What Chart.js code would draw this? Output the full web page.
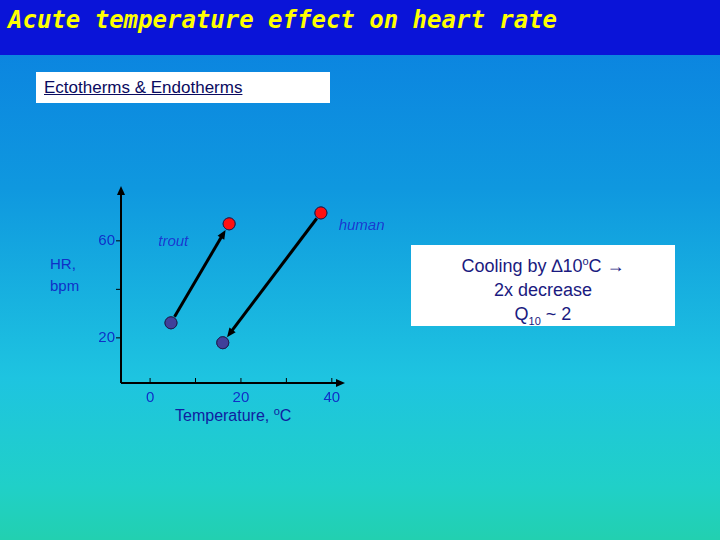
<!DOCTYPE html>
<html><head><meta charset="utf-8">
<script src="https://cdn.jsdelivr.net/npm/chart.js@4"></script>
<style>
html,body{margin:0;padding:0;width:720px;height:540px;overflow:hidden}
#bg{position:absolute;left:0;top:0;width:720px;height:540px;background:linear-gradient(180deg,#0a7ee0 0%,#0f98df 35%,#1ec4e0 70%,#20d0c8 90%,#22d0b0 100%)}
#bar{position:absolute;left:0;top:0;width:720px;height:55px;background:#0a14d8}
#title{position:absolute;left:8px;top:6px;font:italic bold 24px "DejaVu Sans Mono",monospace;color:#ffff00;white-space:nowrap}
.box{position:absolute;background:#fff}
#b1{left:36px;top:72px;width:294px;height:31px}
#b1 span{position:absolute;left:8px;top:6px;font:17px "Liberation Sans",Arial;text-decoration:underline;color:#0a0a60}
#b2{left:411px;top:245px;width:264px;height:81px;font:18px "Liberation Sans",Arial;color:#1a1a80;text-align:center;line-height:24px;padding-top:4px;box-sizing:border-box}
canvas{position:absolute;left:0;top:0}
.t{position:absolute;font:15px "Liberation Sans",Arial;color:#1030c8;white-space:nowrap}
</style></head><body>
<div id="bg"></div><div id="bar"></div>
<div id="title">Acute temperature effect on heart rate</div>
<div class="box" id="b1"><span>Ectotherms &amp; Endotherms</span></div>
<div class="box" id="b2">Cooling by &#8710;10<sup style="font-size:11px">o</sup>C &#8594;<br>2x decrease<br>Q<sub style="font-size:11px">10</sub> ~ 2</div>
<div class="t" style="left:50px;top:253px;line-height:22px">HR,<br>bpm</div>
<div class="t" style="left:175px;top:405px;font-size:16px;color:#1020a0">Temperature, <sup style="font-size:11px">o</sup>C</div>
<div style="position:absolute;left:0;top:0;width:720px;height:540px"><canvas id="c" width="720" height="540"></canvas></div>
<script>
const xTicks=[0,10,20,30,40];
const xLabels=['0','','20','','40'];
const yTicks=[60,40,20];
const yLabels=['60','','20'];
const troutX=[4.6,17.4], troutY=[26.2,67];
const humanX=[37.6,16], humanY=[71.5,18];
const seriesNames=['trout','human'];

const arrowPlugin={id:'arrows',afterDatasetsDraw(ch){
 const c=ch.ctx,xs=ch.scales.x,ys=ch.scales.y,a=ch.chartArea;
 c.save();c.strokeStyle='#000';c.fillStyle='#000';c.lineWidth=2;
 // axes
 c.beginPath();c.moveTo(a.left,a.bottom);c.lineTo(a.left,a.top+6);c.moveTo(a.left,a.bottom);c.lineTo(a.right-6,a.bottom);c.stroke();
 c.beginPath();c.moveTo(a.left,a.top);c.lineTo(a.left-4,a.top+9);c.lineTo(a.left+4,a.top+9);c.fill();
 c.beginPath();c.moveTo(a.right,a.bottom);c.lineTo(a.right-9,a.bottom-4);c.lineTo(a.right-9,a.bottom+4);c.fill();
 c.lineWidth=1;c.font='15px "Liberation Sans"';c.fillStyle='#1030c8';
 xTicks.forEach((v,i)=>{const p=xs.getPixelForValue(v);c.beginPath();c.moveTo(p,a.bottom);c.lineTo(p,a.bottom-5);c.stroke();
  c.textAlign='center';c.textBaseline='top';c.fillText(xLabels[i],p,a.bottom+7);});
 yTicks.forEach((v,i)=>{const p=ys.getPixelForValue(v);c.beginPath();c.moveTo(a.left,p);c.lineTo(a.left-5,p);c.stroke();
  c.textAlign='right';c.textBaseline='middle';c.fillText(yLabels[i],a.left-6,p);});
 // arrows
 c.lineWidth=3;c.fillStyle='#000';
 ch.data.datasets.forEach(ds=>{const p0=ds.data[0],p1=ds.data[1];
  let x0=xs.getPixelForValue(p0.x),y0=ys.getPixelForValue(p0.y),x1=xs.getPixelForValue(p1.x),y1=ys.getPixelForValue(p1.y);
  const ang=Math.atan2(y1-y0,x1-x0),r=7;
  x0+=Math.cos(ang)*r;y0+=Math.sin(ang)*r;x1-=Math.cos(ang)*r;y1-=Math.sin(ang)*r;
  c.beginPath();c.moveTo(x0,y0);c.lineTo(x1-Math.cos(ang)*6,y1-Math.sin(ang)*6);c.stroke();
  c.beginPath();c.moveTo(x1,y1);c.lineTo(x1-10*Math.cos(ang-0.4),y1-10*Math.sin(ang-0.4));c.lineTo(x1-10*Math.cos(ang+0.4),y1-10*Math.sin(ang+0.4));c.fill();
 });
 // point labels
 c.font='italic 15px "Liberation Sans"';c.fillStyle='#1a3ad0';c.textAlign='left';c.textBaseline='middle';
 c.fillText(seriesNames[0],xs.getPixelForValue(1.8),ys.getPixelForValue(59.5));
 c.fillText(seriesNames[1],xs.getPixelForValue(41.5),ys.getPixelForValue(66));
 // redraw points on top
 ch.data.datasets.forEach((ds,i)=>ch.getDatasetMeta(i).data.forEach(el=>el.draw(c)));
 c.restore();}};

function mk(xa,ya){return xa.map((x,i)=>({x,y:ya[i]}));}
new Chart(document.getElementById('c'),{type:'scatter',
 data:{datasets:[
  {label:seriesNames[0],data:mk(troutX,troutY),pointBackgroundColor:['#40409a','#ff1010'],pointBorderColor:'#202050',pointRadius:6,borderWidth:1},
  {label:seriesNames[1],data:mk(humanX,humanY),pointBackgroundColor:['#ff1010','#40409a'],pointBorderColor:'#202050',pointRadius:6,borderWidth:1}]},
 options:{responsive:false,animation:false,
  layout:{padding:{left:121,right:375,top:186,bottom:157}},
  plugins:{legend:{display:false},tooltip:{enabled:false}},
  scales:{x:{type:'linear',min:-6.4,max:42.9,display:false},y:{min:1.4,max:82.6,display:false}}},
 plugins:[arrowPlugin]});
</script></body></html>
